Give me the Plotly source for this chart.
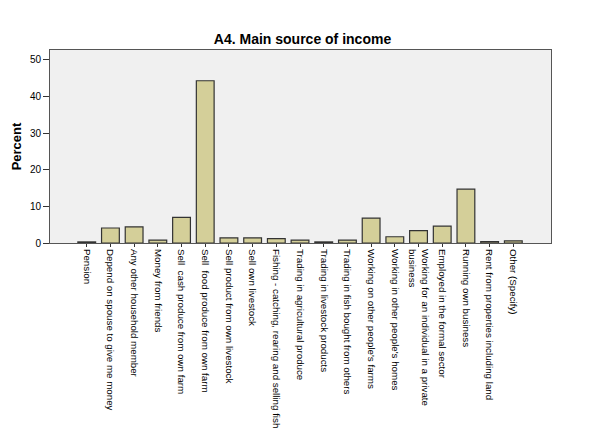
import plotly.graph_objects as go

categories = [
    "Pension",
    "Depend on spouse to give me money",
    "Any other household member",
    "Money from friends",
    "Sell  cash produce from own farm",
    "Sell  food produce from own farm",
    "Sell product from own livestock",
    "Sell own livestock",
    "Fishing - catching, rearing and selling fish",
    "Trading in agricultural produce",
    "Trading in livestock products",
    "Trading in fish bought from others",
    "Working on other people's farms",
    "Working in other people's homes",
    "Working for an individual in a private<br>business",
    "Employed in the formal sector",
    "Running own business",
    "Rent from properties including land",
    "Other (Specify)",
]
percent = [0.3, 4.1, 4.4, 0.8, 7.0, 44.3, 1.4, 1.4, 1.2, 0.8, 0.3, 0.8,
           6.8, 1.7, 3.4, 4.6, 14.7, 0.35, 0.6]
y_ticks = [0, 10, 20, 30, 40, 50]

W, H = 589, 429

fig = go.Figure(go.Bar(
    x=list(range(len(categories))),
    y=percent,
    width=0.75,
    marker=dict(color="#D4CF99", line=dict(color="#333333", width=1.2)),
))

fig.update_layout(
    width=W, height=H,
    margin=dict(l=42, r=46, t=42, b=194, autoexpand=False),
    paper_bgcolor="white",
    plot_bgcolor="#F0F0F0",
    showlegend=False,
    font=dict(family="Liberation Sans, Arial", color="#000000"),
    title=dict(text="<b>A4. Main source of income</b>", x=0.5, xanchor="center",
               y=1 - 31 / H, yanchor="middle", font=dict(size=14)),
)
fig.update_xaxes(
    automargin=False,
    range=[-1.55, 19.59],
    tickvals=list(range(len(categories))),
    ticktext=categories,
    tickangle=90,
    tickfont=dict(size=9.75),
    ticks="outside", ticklen=3, tickcolor="#333333",
    showgrid=False, zeroline=False,
    showline=True, linecolor="#555555", linewidth=1, mirror=True,
)
fig.update_yaxes(
    automargin=False,
    range=[0, 52.7],
    tickvals=y_ticks,
    tickfont=dict(size=10),
    ticks="outside", ticklen=6, tickcolor="#333333",
    showgrid=False, zeroline=False,
    showline=True, linecolor="#555555", linewidth=1, mirror=True,
    title=dict(text="<b>Percent</b>", font=dict(size=13), standoff=5),
)

fig.write_html("out.html")
